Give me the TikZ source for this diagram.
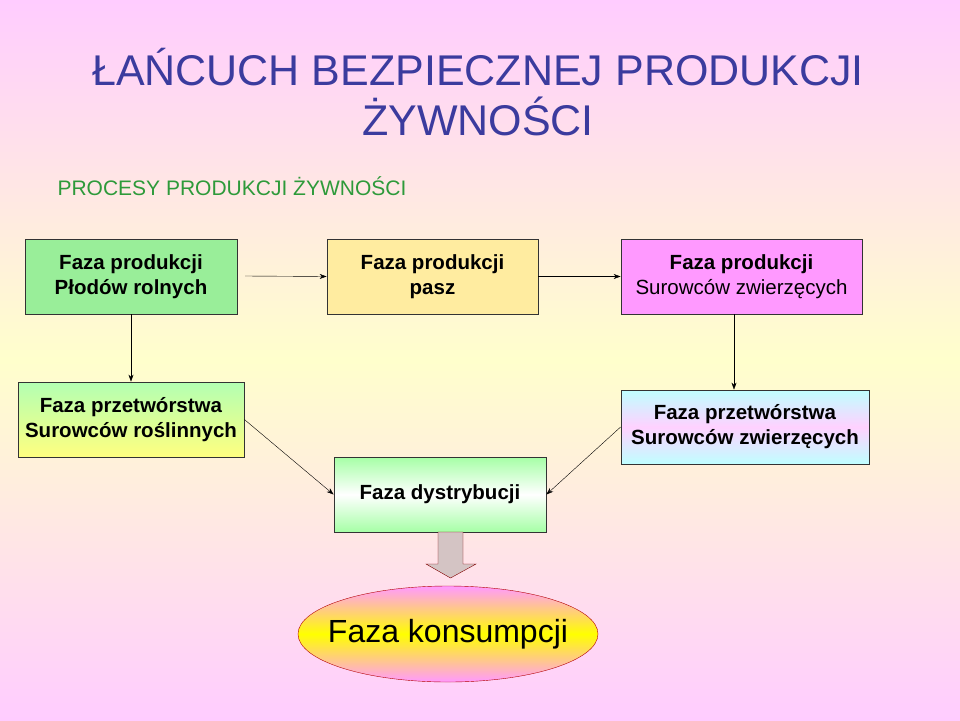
\documentclass[tikz,border=0pt]{standalone}
\usepackage{fontspec}
\setmainfont{Liberation Sans}
\usetikzlibrary{shapes.geometric,arrows.meta}
\definecolor{titleblue}{HTML}{3B3B9E}
\definecolor{subgreen}{HTML}{2E9A3A}
\definecolor{bgpink}{HTML}{FFCCFF}
\definecolor{bgyellow}{HTML}{FFFFCC}
\tikzset{
  phase/.style={draw=black!80, thick, align=center, font=\fontsize{20.5}{25}\selectfont},
  flow/.style={-{Stealth[length=7pt,width=5pt]}, thin},
}
\begin{document}
\begin{tikzpicture}[x=1pt,y=-1pt]
    % background
    \shade[top color=bgpink, bottom color=bgyellow] (0,0) rectangle (960,360);
    \shade[top color=bgyellow, bottom color=bgpink] (0,360) rectangle (960,720);
    \useasboundingbox (0,0) rectangle (960,720);

    % title
    \node[titleblue, font=\fontsize{43}{50}\selectfont, align=center] (title) at (478,92)
      {ŁAŃCUCH BEZPIECZNEJ PRODUKCJI\\ŻYWNOŚCI};
    \node[subgreen, font=\fontsize{21}{24}\selectfont, anchor=west] (sub) at (54,186)
      {PROCESY PRODUKCJI ŻYWNOŚCI};

    % first row
    \node[phase, fill={rgb,255:red,153;green,238;blue,153}, minimum width=212, minimum height=75] (plody) at (131,276.5)
      {\textbf{Faza produkcji}\\\textbf{Płodów rolnych}};
    \node[phase, fill={rgb,255:red,255;green,236;blue,160}, minimum width=211, minimum height=75] (pasze) at (432.5,276.5)
      {\textbf{Faza produkcji}\\\textbf{pasz}};
    \node[phase, fill={rgb,255:red,255;green,153;blue,255}, minimum width=241, minimum height=75] (surowce) at (741.5,276.5)
      {\textbf{Faza produkcji}\\Surowców zwierzęcych};

    % second row
    \node[phase, top color=green!30, bottom color=yellow!50, minimum width=226, minimum height=75] (rosl) at (131,419.5)
      {\textbf{Faza przetwórstwa}\\\textbf{Surowców roślinnych}};
    \node[phase, top color=cyan!25, bottom color=cyan!25, middle color=magenta!18, minimum width=248, minimum height=74] (zwierz) at (745,427)
      {\textbf{Faza przetwórstwa}\\\textbf{Surowców zwierzęcych}};
    \node[phase, top color=green!35, bottom color=green!35, middle color=white, minimum width=212, minimum height=75] (dystr) at (440,494.5)
      {\textbf{Faza dystrybucji}};

    % consumption
    \shade[draw=red!70!black, top color=magenta!40, bottom color=magenta!40, middle color=yellow]
      (448,634) ellipse [x radius=150, y radius=48];
    \node[font=\fontsize{32}{38}\selectfont] (konsum) at (448,634) {Faza konsumpcji};

    % connectors
    \draw[flow] (245,276) -- (pasze.west);
    \draw[flow] (pasze.east) -- (surowce.west);
    \draw[flow] (plody.south) -- (rosl.north);
    \draw[flow] (surowce.south -| 734,0) -- (zwierz.north -| 734,0);
    \draw[flow] (rosl.east) -- (dystr.west);
    \draw[flow] (zwierz.west) -- (dystr.east);

    % block arrow
    \draw[red!50!black, fill=red!15!gray!40] (438,532) -- (463,532) -- (463,564) -- (476,564)
      -- (450.5,578) -- (426,564) -- (438,564) -- cycle;
\end{tikzpicture}
\end{document}
